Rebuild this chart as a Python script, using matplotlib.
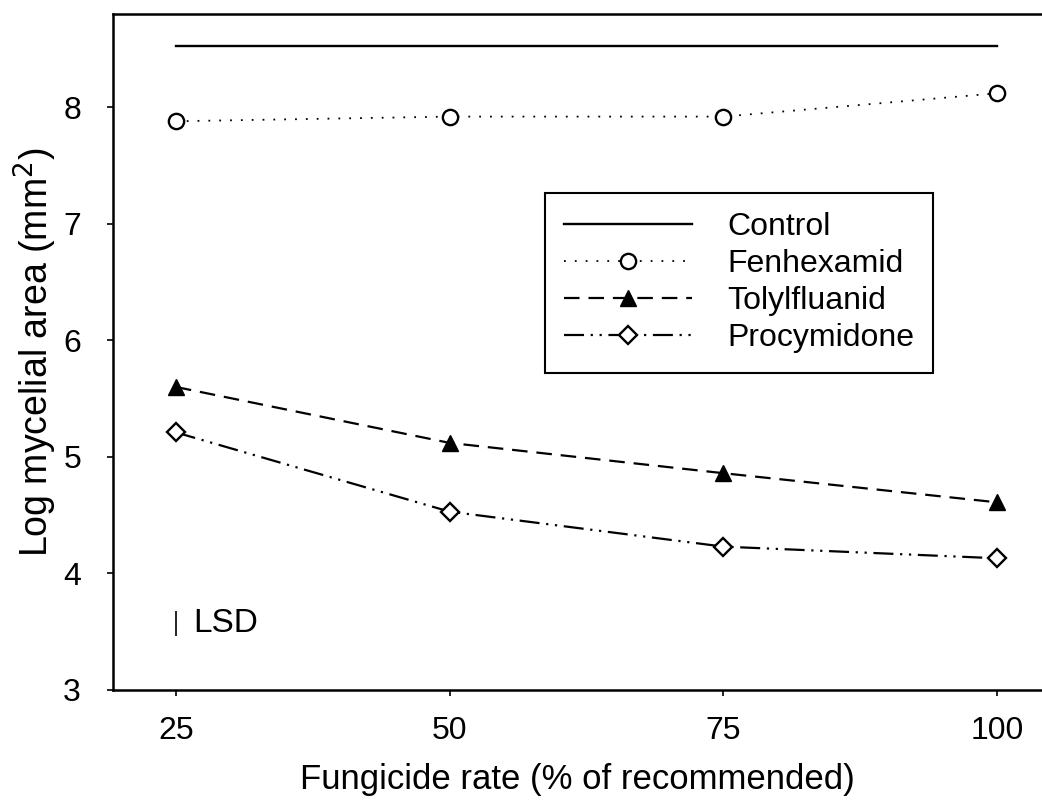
import matplotlib
matplotlib.use("Agg")
import matplotlib.pyplot as plt

plt.rcParams["font.family"] = ["Liberation Sans", "DejaVu Sans"]

# fungicide rate (% of recommended)
rates = [25, 50, 75, 100]

# log mycelial area (mm2)
control = [8.53, 8.53, 8.53, 8.53]
fenhexamid = [7.88, 7.92, 7.92, 8.12]
tolylfluanid = [5.60, 5.12, 4.86, 4.61]
procymidone = [5.21, 4.53, 4.23, 4.13]

lsd_x = 25
lsd_low, lsd_high = 3.46, 3.68

fig = plt.figure(figsize=(10.42, 8.02), dpi=100)
ax = fig.add_axes([0.1084, 0.1397, 0.8916, 0.8428])

ax.plot(rates, control, color="black", lw=1.7, linestyle="-", label="Control")
ax.plot(rates, fenhexamid, color="black", lw=1.3, linestyle=(0, (1, 5)),
        marker="o", markersize=11, markerfacecolor="white",
        markeredgecolor="black", markeredgewidth=1.7, label="Fenhexamid")
ax.plot(rates, tolylfluanid, color="black", lw=1.6, linestyle=(0, (7, 4)),
        marker="^", markersize=11, markerfacecolor="black",
        markeredgecolor="black", label="Tolylfluanid")
ax.plot(rates, procymidone, color="black", lw=1.6,
        linestyle=(0, (9, 3, 1, 3, 1, 3)),
        marker="D", markersize=9, markerfacecolor="white",
        markeredgecolor="black", markeredgewidth=1.7, label="Procymidone")

# LSD bar
ax.vlines(lsd_x, lsd_low, lsd_high, color="black", lw=1.2)
ax.text(lsd_x + 1.6, (lsd_low + lsd_high) / 2, "LSD", fontsize=24,
        va="center", ha="left")

ax.set_xlim(19.25, 104.1)
ax.set_ylim(3, 8.8)
ax.set_xticks(rates)
ax.set_yticks([3, 4, 5, 6, 7, 8])
ax.tick_params(direction="out", length=4, width=1.2, labelsize=23, pad=15)
ax.tick_params(axis="y", pad=19)

ax.spines["right"].set_visible(False)
for side in ["left", "top", "bottom"]:
    ax.spines[side].set_linewidth(1.8)

ax.set_xlabel("Fungicide rate (% of recommended)", fontsize=25, labelpad=12)
ax.set_ylabel("Log mycelial area (mm$^2$)", fontsize=27, labelpad=3)

leg = ax.legend(loc="upper left", bbox_to_anchor=(0.465, 0.735), fontsize=23,
                handlelength=4.0, handletextpad=1.1, labelspacing=0.22,
                borderpad=0.6, borderaxespad=0, fancybox=False,
                framealpha=1, edgecolor="black")
leg.get_frame().set_linewidth(1.5)

fig.savefig("out.png", dpi=100)
